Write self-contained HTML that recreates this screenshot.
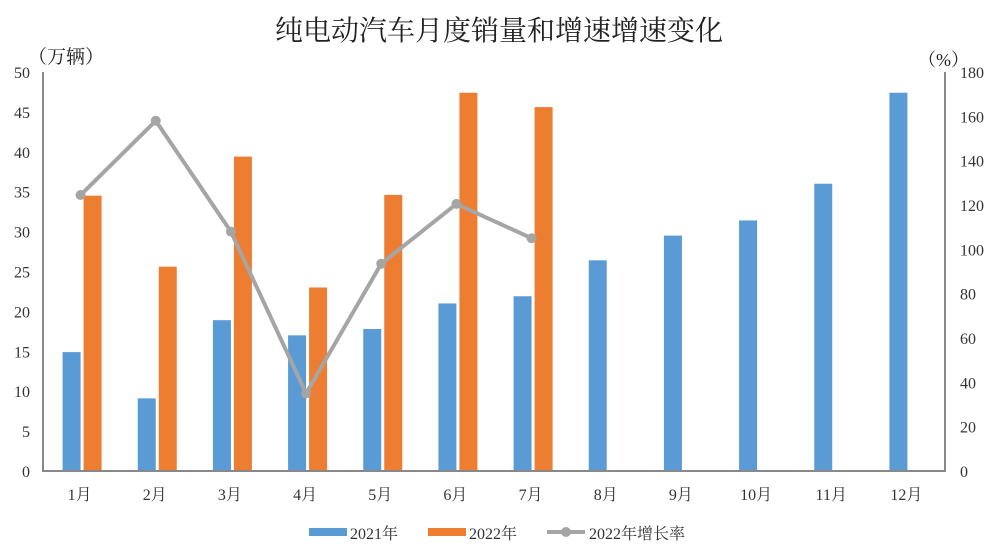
<!DOCTYPE html>
<html><head><meta charset="utf-8"><style>
body{margin:0;background:#fff}
svg{display:block;font-family:"Liberation Serif","Noto Serif CJK SC",serif}
</style></head><body>
<svg id="c" width="998" height="552" viewBox="0 0 998 552">
<text x="499" y="40" font-size="28" text-anchor="middle" fill="#222">纯电动汽车月度销量和增速增速变化</text>
<text x="28" y="63" font-size="19" fill="#222">（万辆）</text>
<text x="918" y="66" font-size="18" fill="#222">（%）</text>
<g id="plot"></g>
<g>
<rect x="309" y="528" width="38" height="8" fill="#5b9bd5"/>
<text x="350" y="539" font-size="16" fill="#333">2021年</text>
<rect x="428" y="528" width="38" height="8" fill="#ed7d31"/>
<text x="469" y="539" font-size="16" fill="#333">2022年</text>
<line x1="547" y1="532" x2="585" y2="532" stroke="#a5a5a5" stroke-width="4"/>
<circle cx="566" cy="532" r="5" fill="#a5a5a5"/>
<text x="589" y="539" font-size="16" fill="#333">2022年增长率</text>
</g>
</svg>
<script>
const categories=["1月","2月","3月","4月","5月","6月","7月","8月","9月","10月","11月","12月"];
const sales2021=[14.9,9.1,18.9,17.0,17.8,21.0,21.9,26.4,29.5,31.4,36.0,47.4];
const sales2022=[34.5,25.6,39.4,23.0,34.6,47.4,45.6];
const growth2022=[124.5,158,108,35,93.5,120.5,105];
const leftTicks=[0,5,10,15,20,25,30,35,40,45,50];
const rightTicks=[0,20,40,60,80,100,120,140,160,180];
(function(){
const NS="http://www.w3.org/2000/svg";
const g=document.getElementById("plot");
const X0=43,X1=945,Y0=471,Y1=72;
const band=(X1-X0)/categories.length;
const yL=v=>Y0-(v/50)*(Y0-Y1);
const yR=v=>Y0-(v/180)*(Y0-Y1);
const xc=i=>X0+band*(i+0.5);
function mk(t,a){const e=document.createElementNS(NS,t);for(const k in a)e.setAttribute(k,a[k]);g.appendChild(e);return e;}
leftTicks.forEach(v=>{const t=mk("text",{x:30,y:yL(v)+6,"font-size":16,"text-anchor":"end",fill:"#333"});t.textContent=v;

});
rightTicks.forEach(v=>{const t=mk("text",{x:960,y:yR(v)+6,"font-size":16,fill:"#333"});t.textContent=v;

});
categories.forEach((c,i)=>{const t=mk("text",{x:xc(i)-1,y:500,"font-size":16,"text-anchor":"middle",fill:"#333"});t.textContent=c;

});
sales2021.forEach((v,i)=>{const r=mk("rect",{x:xc(i)-18,y:yL(v),width:18,height:Y0-yL(v),fill:"#5b9bd5"});

});
sales2022.forEach((v,i)=>{const r=mk("rect",{x:xc(i)+3,y:yL(v),width:18,height:Y0-yL(v),fill:"#ed7d31"});

});
const ax=mk("path",{d:`M${X0} ${Y1}V${Y0}H${X1}V${Y1}`,fill:"none",stroke:"#888",'stroke-width':2});


const pl=mk("polyline",{points:growth2022.map((v,i)=>xc(i)+","+yR(v)).join(" "),fill:"none",stroke:"#a5a5a5","stroke-width":4,"stroke-linejoin":"round"});


growth2022.forEach((v,i)=>{const c=mk("circle",{cx:xc(i),cy:yR(v),r:5,fill:"#a5a5a5"});

});
})();
</script>
</body></html>
